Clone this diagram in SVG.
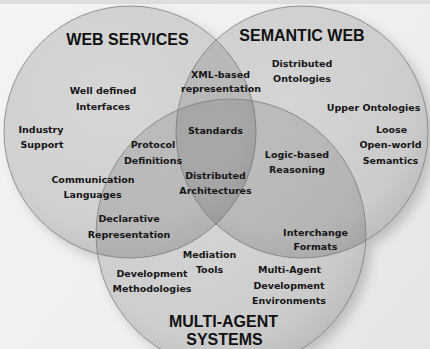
<svg xmlns="http://www.w3.org/2000/svg" width="430" height="349" viewBox="0 0 430 349">
  <defs>
    <linearGradient id="paper" gradientUnits="userSpaceOnUse" x1="0" y1="0" x2="430" y2="349">
      <stop offset="0" stop-color="#f4f4f4"/>
      <stop offset="0.6" stop-color="#efefef"/>
      <stop offset="1" stop-color="#e4e4e4"/>
    </linearGradient>
    <radialGradient id="disc" cx="0.45" cy="0.4" r="0.62">
      <stop offset="0" stop-color="#6a6a6a" stop-opacity="0.2"/>
      <stop offset="0.8" stop-color="#6a6a6a" stop-opacity="0.25"/>
      <stop offset="1" stop-color="#606060" stop-opacity="0.33"/>
    </radialGradient>
    <filter id="shadow" x="-20%" y="-20%" width="140%" height="140%">
      <feGaussianBlur stdDeviation="6"/>
    </filter>
    <style>
      .ring { fill: url(#disc); stroke: #7a7a7a; stroke-width: 0.9; stroke-opacity: 0.85; }
      .base { fill: url(#paper); }
      .title { font-family: "Liberation Sans", Arial, sans-serif; font-weight: bold; font-size: 16px; fill: #111; text-anchor: middle; }
      .lbl { font-family: "DejaVu Sans", "Liberation Sans", sans-serif; font-weight: bold; font-size: 9.5px; fill: #151515; text-anchor: middle; }
    </style>
  </defs>

  <!-- paper background -->
  <rect width="430" height="349" fill="url(#paper)"/>
  <rect width="430" height="4" fill="#dedede"/>

  <!-- soft shadow cast by the three discs -->
  <g opacity="0.28" filter="url(#shadow)" fill="#505050">
    <circle cx="136" cy="138" r="126"/>
    <circle cx="308" cy="138" r="126"/>
    <circle cx="237" cy="240" r="135"/>
  </g>

  <!-- paper-coloured base so the shadow stays outside the discs -->
  <g>
    <circle class="base" cx="130" cy="132" r="126"/>
    <circle class="base" cx="302" cy="132" r="126"/>
    <circle class="base" cx="231" cy="234" r="135"/>
  </g>

  <!-- circles -->
  <g id="web-services">
    <circle class="ring" cx="130" cy="132" r="126"/>
    <text class="title" x="127.5" y="45">WEB SERVICES</text>
  </g>
  <g id="semantic-web">
    <circle class="ring" cx="302" cy="132" r="126"/>
    <text class="title" x="302" y="41">SEMANTIC WEB</text>
  </g>
  <g id="multi-agent-systems">
    <circle class="ring" cx="231" cy="234" r="135"/>
    <text class="title" x="223.5" y="327">MULTI-AGENT</text>
    <text class="title" x="224.5" y="345">SYSTEMS</text>
  </g>

  <!-- region labels -->
  <g id="labels">
    <text class="lbl" x="103" y="94">Well defined</text>
    <text class="lbl" x="103" y="110">Interfaces</text>
    <text class="lbl" x="41" y="133">Industry</text>
    <text class="lbl" x="42" y="148">Support</text>
    <text class="lbl" x="153" y="148">Protocol</text>
    <text class="lbl" x="153" y="164">Definitions</text>
    <text class="lbl" x="93" y="183">Communication</text>
    <text class="lbl" x="92.5" y="198">Languages</text>
    <text class="lbl" x="129" y="222">Declarative</text>
    <text class="lbl" x="129" y="238">Representation</text>

    <text class="lbl" x="220.5" y="78">XML-based</text>
    <text class="lbl" x="221" y="92">representation</text>
    <text class="lbl" x="215.5" y="134">Standards</text>
    <text class="lbl" x="215.5" y="179">Distributed</text>
    <text class="lbl" x="215.5" y="194">Architectures</text>

    <text class="lbl" x="302" y="67">Distributed</text>
    <text class="lbl" x="302" y="82">Ontologies</text>
    <text class="lbl" x="373.5" y="111">Upper Ontologies</text>
    <text class="lbl" x="391.5" y="133">Loose</text>
    <text class="lbl" x="390.5" y="148">Open-world</text>
    <text class="lbl" x="390.5" y="164">Semantics</text>
    <text class="lbl" x="297" y="158">Logic-based</text>
    <text class="lbl" x="297" y="173">Reasoning</text>

    <text class="lbl" x="315.5" y="236">Interchange</text>
    <text class="lbl" x="315.5" y="250">Formats</text>
    <text class="lbl" x="209.5" y="258">Mediation</text>
    <text class="lbl" x="209.5" y="273">Tools</text>
    <text class="lbl" x="152" y="277">Development</text>
    <text class="lbl" x="152" y="292">Methodologies</text>
    <text class="lbl" x="289.5" y="273">Multi-Agent</text>
    <text class="lbl" x="289" y="289">Development</text>
    <text class="lbl" x="289" y="304">Environments</text>
  </g>
</svg>
